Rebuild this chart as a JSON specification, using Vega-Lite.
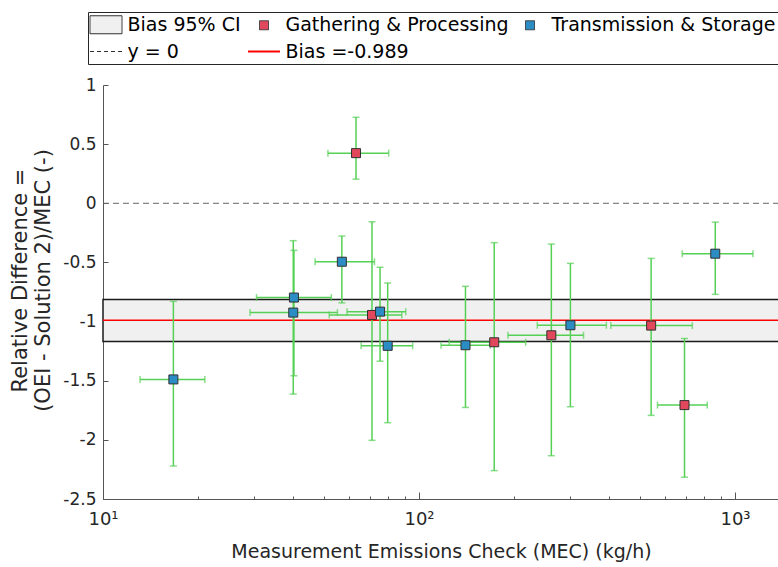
{
  "$schema": "https://vega.github.io/schema/vega-lite/v6.json",
  "width": 676,
  "height": 414,
  "autosize": {"type": "none"},
  "padding": {"left": 103, "top": 85, "right": 0, "bottom": 68},
  "background": "white",
  "config": {"view": {"stroke": null}, "font": "DejaVu Sans", "axis": {"grid": false}},
  "datasets": {
    "pts": [
      {"series": "Gathering & Processing", "x": 63.2, "xlo": 51.5, "xhi": 80.2, "y": 0.424, "ylo": 0.204, "yhi": 0.727},
      {"series": "Gathering & Processing", "x": 71.0, "xlo": 52.0, "xhi": 88.2, "y": -0.944, "ylo": -2.004, "yhi": -0.156},
      {"series": "Gathering & Processing", "x": 173.0, "xlo": 124.6, "xhi": 217.6, "y": -1.175, "ylo": -2.26, "yhi": -0.333},
      {"series": "Gathering & Processing", "x": 262.3, "xlo": 191.2, "xhi": 331.6, "y": -1.116, "ylo": -2.134, "yhi": -0.345},
      {"series": "Gathering & Processing", "x": 542.8, "xlo": 404.6, "xhi": 732.9, "y": -1.034, "ylo": -1.793, "yhi": -0.466},
      {"series": "Gathering & Processing", "x": 692.2, "xlo": 568.4, "xhi": 817.0, "y": -1.706, "ylo": -2.316, "yhi": -1.143},
      {"series": "Transmission & Storage", "x": 57.0, "xlo": 46.9, "xhi": 72.3, "y": -0.494, "ylo": -0.842, "yhi": -0.277},
      {"series": "Transmission & Storage", "x": 40.2, "xlo": 30.6, "xhi": 52.8, "y": -0.797, "ylo": -1.458, "yhi": -0.398},
      {"series": "Transmission & Storage", "x": 40.0, "xlo": 29.2, "xhi": 55.2, "y": -0.924, "ylo": -1.613, "yhi": -0.316},
      {"series": "Transmission & Storage", "x": 75.3, "xlo": 59.2, "xhi": 90.8, "y": -0.916, "ylo": -1.335, "yhi": -0.541},
      {"series": "Transmission & Storage", "x": 79.6, "xlo": 65.6, "xhi": 95.5, "y": -1.205, "ylo": -1.855, "yhi": -0.674},
      {"series": "Transmission & Storage", "x": 16.7, "xlo": 13.1, "xhi": 21.0, "y": -1.489, "ylo": -2.221, "yhi": -0.829},
      {"series": "Transmission & Storage", "x": 140.3, "xlo": 117.4, "xhi": 168.1, "y": -1.2, "ylo": -1.726, "yhi": -0.702},
      {"series": "Transmission & Storage", "x": 301.4, "xlo": 236.8, "xhi": 391.7, "y": -1.031, "ylo": -1.72, "yhi": -0.508},
      {"series": "Transmission & Storage", "x": 866.0, "xlo": 680.8, "xhi": 1140.0, "y": -0.426, "ylo": -0.77, "yhi": -0.159}
    ],
    "band": [{"lo": -1.169, "hi": -0.814}],
    "zero": [{"y": 0}],
    "bias": [{"y": -0.989}]
  },
  "layer": [
    {
      "data": {"name": "pts"},
      "mark": {"type": "point", "shape": "square", "filled": true, "size": 81, "opacity": 0},
      "encoding": {
        "x": {
          "field": "x", "type": "quantitative",
          "scale": {"type": "log", "domain": [10, 1378], "nice": false},
          "axis": {
            "title": "Measurement Emissions Check (MEC) (kg/h)",
            "values": [10, 20, 30, 40, 50, 60, 70, 80, 90, 100, 200, 300, 400, 500, 600, 700, 800, 900, 1000],
            "labelExpr": "datum.value === 10 ? '10¹' : datum.value === 100 ? '10²' : datum.value === 1000 ? '10³' : ''",
            "labelFlush": false, "labelOverlap": false,
            "tickSize": {"condition": {"test": "datum.value === 10 || datum.value === 100 || datum.value === 1000", "value": -7}, "value": -3},
            "tickColor": "#555555", "domainColor": "#555555", "grid": false,
            "labelFont": "DejaVu Sans", "labelFontSize": 18, "labelColor": "#262626", "labelPadding": 18,
            "titleFont": "DejaVu Sans", "titleFontSize": 19, "titleFontWeight": "normal", "titleColor": "#262626", "titlePadding": 10
          }
        },
        "y": {
          "field": "y", "type": "quantitative",
          "scale": {"domain": [-2.5, 1], "nice": false, "zero": false},
          "axis": {
            "title": ["Relative Difference =", "(OEI - Solution 2)/MEC (-)"],
            "values": [-2.5, -2, -1.5, -1, -0.5, 0, 0.5, 1],
            "labelExpr": "toString(datum.value)",
            "labelFlush": false, "labelOverlap": false,
            "tickSize": -5, "tickColor": "#555555", "domainColor": "#555555", "grid": false,
            "labelFont": "DejaVu Sans", "labelFontSize": 17, "labelColor": "#262626", "labelPadding": 12,
            "titleFont": "DejaVu Sans", "titleFontSize": 21, "titleFontWeight": "normal", "titleColor": "#262626",
            "titleAngle": 270, "titleX": -83, "titleY": 195, "titleAlign": "center", "titleBaseline": "middle", "titleLineHeight": 23
          }
        }
      }
    },
    {
      "data": {"name": "band"},
      "mark": {"type": "rect", "fill": "#f0f0f0", "stroke": "#1a1a1a", "strokeWidth": 1.5},
      "encoding": {
        "y": {"field": "lo", "type": "quantitative"},
        "y2": {"field": "hi"}
      }
    },
    {
      "data": {"name": "zero"},
      "mark": {"type": "rule", "stroke": "#666666", "strokeWidth": 1, "strokeDash": [6, 4]},
      "encoding": {
        "y": {"field": "y", "type": "quantitative"}
      }
    },
    {
      "data": {"name": "bias"},
      "mark": {"type": "rule", "stroke": "#ff0000", "strokeWidth": 1.5},
      "encoding": {
        "y": {"field": "y", "type": "quantitative"}
      }
    },
    {
      "data": {"name": "pts"},
      "mark": {"type": "rule", "stroke": "#55d055", "strokeWidth": 1.5},
      "encoding": {
        "x": {"field": "x", "type": "quantitative"},
        "y": {"field": "ylo", "type": "quantitative"},
        "y2": {"field": "yhi"}
      }
    },
    {
      "data": {"name": "pts"},
      "mark": {"type": "rule", "stroke": "#55d055", "strokeWidth": 1.5},
      "encoding": {
        "x": {"field": "xlo", "type": "quantitative"},
        "x2": {"field": "xhi"},
        "y": {"field": "y", "type": "quantitative"}
      }
    },
    {
      "data": {"name": "pts"},
      "mark": {"type": "tick", "orient": "horizontal", "color": "#55d055", "size": 7, "thickness": 1.5},
      "encoding": {
        "x": {"field": "x", "type": "quantitative"},
        "y": {"field": "ylo", "type": "quantitative"}
      }
    },
    {
      "data": {"name": "pts"},
      "mark": {"type": "tick", "orient": "horizontal", "color": "#55d055", "size": 7, "thickness": 1.5},
      "encoding": {
        "x": {"field": "x", "type": "quantitative"},
        "y": {"field": "yhi", "type": "quantitative"}
      }
    },
    {
      "data": {"name": "pts"},
      "mark": {"type": "tick", "orient": "vertical", "color": "#55d055", "size": 7, "thickness": 1.5},
      "encoding": {
        "x": {"field": "xlo", "type": "quantitative"},
        "y": {"field": "y", "type": "quantitative"}
      }
    },
    {
      "data": {"name": "pts"},
      "mark": {"type": "tick", "orient": "vertical", "color": "#55d055", "size": 7, "thickness": 1.5},
      "encoding": {
        "x": {"field": "xhi", "type": "quantitative"},
        "y": {"field": "y", "type": "quantitative"}
      }
    },
    {
      "data": {"name": "pts"},
      "mark": {"type": "point", "shape": "square", "filled": true, "size": 81, "opacity": 1, "stroke": "#303030", "strokeWidth": 1},
      "encoding": {
        "x": {"field": "x", "type": "quantitative"},
        "y": {"field": "y", "type": "quantitative"},
        "fill": {
          "field": "series", "type": "nominal",
          "scale": {
            "domain": ["Bias 95% CI", "Gathering & Processing", "Transmission & Storage", "y = 0", "Bias =-0.989"],
            "range": ["#f0f0f0", "#e2485c", "#2c8cc4", "transparent", "#ff0000"]
          },
          "legend": {
            "title": null, "orient": "none", "legendX": -15, "legendY": -73, "direction": "horizontal",
            "columns": 3, "labelFont": "DejaVu Sans", "labelFontSize": 19, "labelColor": "#000000", "labelLimit": 400,
            "symbolSize": 400, "symbolStrokeWidth": 1, "symbolOffset": 5.5, "labelOffset": 11,
            "columnPadding": 5, "rowPadding": 5, "padding": 2,
            "strokeColor": "#262626", "fillColor": "#ffffff",
            "encoding": {
              "symbols": {
                "shape": {"value": {"expr": "datum.value === 'Bias 95% CI' ? 'M-1.6,-0.9H1.6V0.9H-1.6Z' : datum.value === 'y = 0' ? 'M-1.6,0H1.6' : datum.value === 'Bias =-0.989' ? 'M-1.6,-0.1H1.6V0.1H-1.6Z' : 'M-0.45,-0.45H0.45V0.45H-0.45Z'"}},
                "strokeDash": {"value": {"expr": "datum.value === 'y = 0' ? [4, 3] : datum.value === 'Bias =-0.989' ? [0, 100] : [1, 0]"}},
                "opacity": {"value": 1}
              }
            }
          }
        }
      }
    }
  ]
}
